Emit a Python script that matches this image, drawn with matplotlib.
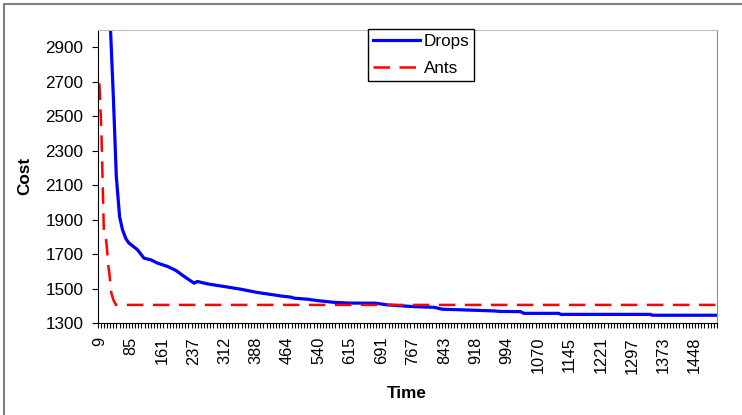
import numpy as np
import matplotlib
matplotlib.use("Agg")
import matplotlib.pyplot as plt
from matplotlib.lines import Line2D

plt.rcParams['font.family'] = ['Liberation Sans', 'DejaVu Sans']

# values
drops_time = [35, 43, 50, 58, 65, 73, 80, 89, 101, 117, 133, 150, 174, 194, 214,
              238, 246, 270, 310, 351, 391, 431, 447, 472, 480, 512, 536, 576, 608,
              649, 677, 705, 769, 818, 838, 890, 963, 979, 1027, 1035, 1120, 1124,
              1341, 1345, 1498]
drops_cost = [3060, 2600, 2150, 1915, 1840, 1790, 1765, 1748, 1725, 1676, 1667, 1647,
              1628, 1605, 1570, 1531, 1541, 1527, 1512, 1496, 1477, 1463, 1457, 1450,
              1444, 1438, 1430, 1420, 1416, 1415, 1415, 1405, 1395, 1391, 1380, 1376,
              1370, 1367, 1366, 1356, 1356, 1350, 1350, 1345, 1345]

ants_time = [9, 11, 14, 17, 20, 25, 27, 30, 34, 38, 43, 49, 1498]
ants_cost = [2690, 2597, 2404, 2113, 1822, 1783, 1744, 1647, 1570, 1473, 1434, 1405, 1405]

time_labels = [9, 85, 161, 237, 312, 388, 464, 540, 615, 691, 767, 843, 918, 994,
               1070, 1145, 1221, 1297, 1373, 1448]
cost_ticks = [1300, 1500, 1700, 1900, 2100, 2300, 2500, 2700, 2900]

W, H = 742, 415
fig = plt.figure(figsize=(W / 100, H / 100), dpi=100)
ax = fig.add_axes([97.7 / W, 1 - 323 / H, (717 - 97.7) / W, (323 - 30) / H])

ax.plot(drops_time, drops_cost, color='#0000ff', lw=2.3, label='Drops',
        solid_joinstyle='round')
ax.plot(ants_time, ants_cost, color='#ff0000', lw=1.8, dashes=(6.6, 3.8),
        label='Ants')

ax.set_xlim(5, 1502)
ax.set_ylim(1300, 3000)

ax.set_yticks(cost_ticks)
ax.tick_params(axis='y', direction='out', length=4.3, width=0.8, pad=6,
               labelsize=12.3, colors='black')

ax.set_xticks(time_labels)
ax.set_xticklabels([str(t) for t in time_labels], rotation=90, ha='center',
                   va='top')
ax.tick_params(axis='x', which='major', length=0, pad=10, labelsize=11.8)
# category boundary tick marks
ax.set_xticks(np.linspace(5, 1502, 199), minor=True)
ax.tick_params(axis='x', which='minor', direction='out', length=3.6, width=0.8)

ax.spines['left'].set_color('black')
ax.spines['bottom'].set_color('black')
ax.spines['left'].set_linewidth(0.8)
ax.spines['bottom'].set_linewidth(0.8)
ax.spines['top'].set_color('#bdbdbd')
ax.spines['right'].set_color('#8c8c8c')

fig.text(25 / W, 1 - 176 / H, 'Cost', rotation=90, ha='center', va='center',
         fontsize=12.3, fontweight='bold')
fig.text(407 / W, 1 - 393 / H, 'Time', ha='center', va='center',
         fontsize=12.3, fontweight='bold')

leg = ax.legend(loc='upper left', bbox_to_anchor=(368 / W, 1 - 29 / H),
                bbox_transform=fig.transFigure, borderaxespad=0, fontsize=12.3,
                fancybox=False, framealpha=1, edgecolor='black',
                handlelength=2.75, handletextpad=0.2, borderpad=0.3,
                labelspacing=0.7)
leg.get_frame().set_linewidth(1.0)

# outer chart frame
fig.add_artist(Line2D([4 / W, 1], [1 - 4.3 / H, 1 - 4.3 / H],
                      transform=fig.transFigure, color='#808080', lw=1.5))
fig.add_artist(Line2D([4.3 / W, 4.3 / W], [0, 1 - 4 / H],
                      transform=fig.transFigure, color='#808080', lw=1.5))

fig.savefig('out.png', dpi=100)
